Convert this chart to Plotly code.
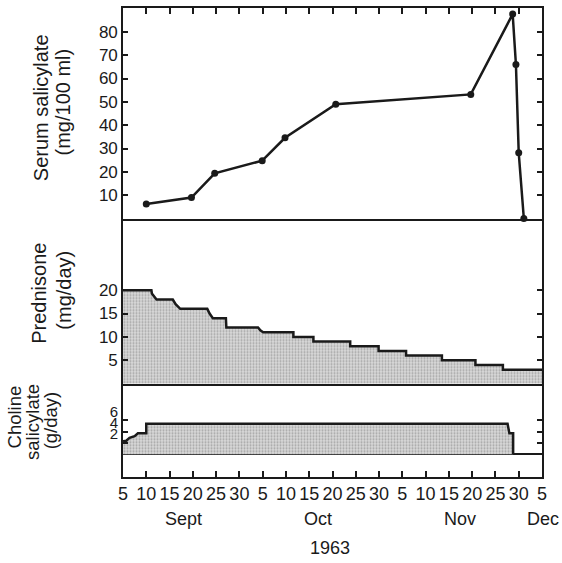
# Serum salicylate / prednisone / choline salicylate, Sept - Dec 1963
import plotly.graph_objects as go

# day positions: months drawn as 30-day blocks, as in the original chart
MONTH_OFFSET = {'Sep': 0, 'Oct': 30, 'Nov': 60, 'Dec': 90}


def day_pos(label):
    month, day = label.split()
    return MONTH_OFFSET[month] + float(day)


# serum salicylate (mg/100 ml)
serum_dates = ['Sep 10', 'Sep 19.7', 'Sep 24.7', 'Oct 4.9', 'Oct 9.8', 'Oct 20.7',
               'Nov 19.7', 'Nov 28.7', 'Nov 29.4', 'Nov 30', 'Dec 1.1']
serum_values = [6.2, 9, 19.4, 24.8, 34.6, 49, 53.2, 87.6, 66, 28.2, 0]

# prednisone (mg/day), step outline
pred_dates = ['Sep 5', 'Sep 11.1', 'Sep 11.2', 'Sep 12.2', 'Sep 15.7', 'Sep 16.3', 'Sep 17.3',
              'Sep 23.1', 'Sep 23.6', 'Sep 24.3', 'Sep 27.1', 'Sep 27.2', 'Oct 4', 'Oct 4.5',
              'Oct 5.1', 'Oct 11.6', 'Oct 11.6', 'Oct 15.9', 'Oct 15.9', 'Oct 23.8', 'Oct 23.8',
              'Oct 29.9', 'Oct 29.9', 'Nov 5.8', 'Nov 5.8', 'Nov 13.5', 'Nov 13.5', 'Nov 20.7',
              'Nov 20.7', 'Nov 26.6', 'Nov 26.6', 'Dec 5']
pred_values = [20, 20, 19.3, 18, 18, 17, 16, 16, 15, 14, 14, 12, 12, 11.4,
               11, 11, 10, 10, 9, 9, 8, 8, 7, 7, 6, 6, 5, 5, 4, 4, 3, 3]

# choline salicylate (g/day), step outline
chol_dates = ['Sep 5', 'Sep 5.7', 'Sep 6.4', 'Sep 7.5', 'Sep 8.2', 'Sep 10', 'Sep 10',
              'Nov 27.6', 'Nov 28', 'Nov 28.8', 'Nov 28.8']
chol_values = [2.3, 2.4, 2.9, 3.2, 3.7, 3.7, 5.4, 5.4, 3.7, 3.7, 0]

x_tickvals = list(range(5, 96, 5))
x_ticktext = ['5', '10', '15', '20', '25', '30'] * 3 + ['5']
month_names = ['Sept', 'Oct', 'Nov', 'Dec']
month_pos = ['Sep 17.9', 'Oct 16.9', 'Nov 17.4', 'Dec 5.2']

X_MIN, X_MAX = 5, 95
FONT = 'Liberation Sans, Arial, sans-serif'
INK = '#1a1a1a'

fig = go.Figure()

fig.add_trace(go.Scatter(
    x=[day_pos(d) for d in serum_dates], y=serum_values,
    mode='lines+markers', line=dict(color=INK, width=2.5),
    marker=dict(color=INK, size=7), xaxis='x', yaxis='y', cliponaxis=False
))

fill_pattern = dict(shape='.', fgcolor='#6e6e6e', bgcolor='#dadada', size=3, solidity=0.4)

fig.add_trace(go.Scatter(
    x=[day_pos(d) for d in pred_dates], y=pred_values,
    mode='lines', fill='tozeroy', line=dict(color=INK, width=2.5),
    fillcolor='#d4d4d4', fillpattern=fill_pattern, xaxis='x2', yaxis='y2'
))

fig.add_trace(go.Scatter(
    x=[day_pos(d) for d in chol_dates], y=chol_values,
    mode='lines', fill='tozeroy', line=dict(color=INK, width=2.5),
    fillcolor='#d4d4d4', fillpattern=fill_pattern, xaxis='x3', yaxis='y3'
))

frame = dict(showline=True, linecolor=INK, linewidth=1.6, showgrid=False,
             zeroline=False, automargin=False, tickcolor=INK, tickwidth=1.5)
tickfont_y = dict(family=FONT, size=17, color=INK)

fig.update_layout(
    width=562, height=563,
    margin=dict(l=123, r=20, t=8, b=86),
    plot_bgcolor='white', paper_bgcolor='white',
    showlegend=False,
    xaxis=dict(frame, range=[X_MIN, X_MAX], anchor='y', side='top', mirror=True,
               ticks='inside', ticklen=6, tickvals=x_tickvals, showticklabels=False),
    xaxis2=dict(frame, range=[X_MIN, X_MAX], anchor='y2', mirror=False, ticks='',
                showticklabels=False),
    xaxis3=dict(frame, range=[X_MIN, X_MAX], anchor='y3', mirror=False, ticks='inside',
                ticklen=6, tickvals=x_tickvals, ticktext=x_ticktext,
                tickfont=dict(family=FONT, size=18, color=INK)),
    yaxis=dict(frame, domain=[0.551, 1], range=[0, 90.2], mirror='ticks',
               ticks='inside', ticklen=5, tickvals=[10, 20, 30, 40, 50, 60, 70, 80],
               tickfont=tickfont_y),
    yaxis2=dict(frame, domain=[0.199, 0.551], range=[0, 35.3], mirror='ticks',
                ticks='inside', ticklen=5, tickvals=[5, 10, 15, 20], tickfont=tickfont_y),
    yaxis3=dict(frame, domain=[0, 0.199], range=[-4.0, 12.47], mirror='ticks',
                ticks='inside', ticklen=5, tickvals=[2, 4, 6], ticklabelshift=-9,
                tickfont=dict(family=FONT, size=15, color=INK),
                zeroline=True, zerolinecolor=INK, zerolinewidth=1.6),
)

# axis titles, one annotation per line: (text, x, y, size)
titles = [
    ('Serum salicylate', -0.195, 0.787, 20),
    ('(mg/100 ml)', -0.144, 0.800, 20),
    ('Prednisone', -0.199, 0.392, 20),
    ('(mg/day)', -0.140, 0.398, 20),
    ('Choline', -0.259, 0.128, 18.5),
    ('salicylate', -0.2165, 0.118, 18.5),
    ('(g/day)', -0.174, 0.121, 18.5),
]
for text, xp, yp, size in titles:
    fig.add_annotation(text=text, x=xp, y=yp, xref='paper', yref='paper',
                       textangle=-90, showarrow=False, xanchor='center', yanchor='middle',
                       font=dict(family=FONT, size=size, color=INK))

for name, pos in zip(month_names, month_pos):
    fig.add_annotation(text=name, x=(day_pos(pos) - X_MIN) / (X_MAX - X_MIN), y=-0.09,
                       xref='paper', yref='paper', showarrow=False,
                       xanchor='center', yanchor='middle',
                       font=dict(family=FONT, size=18, color=INK))

fig.add_annotation(text='1963', x=0.494, y=-0.152, xref='paper', yref='paper',
                   showarrow=False, xanchor='center', yanchor='middle',
                   font=dict(family=FONT, size=18, color=INK))

fig.write_html('out.html', config={'displayModeBar': False},
               post_script="document.body.style.margin='0px';")
